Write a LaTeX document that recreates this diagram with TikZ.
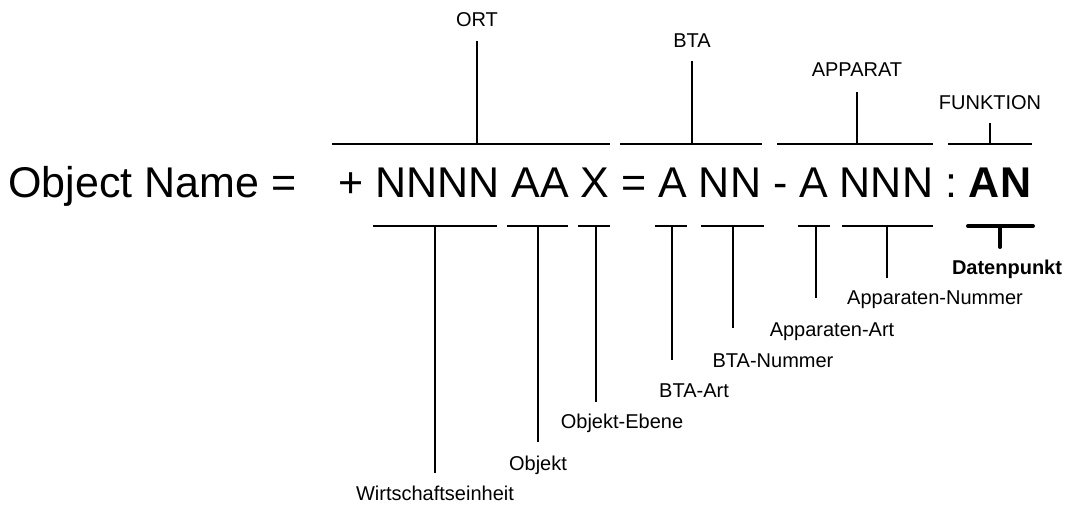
\documentclass[tikz,border=0pt]{standalone}
\usepackage{fontspec}
\setmainfont{Liberation Sans}
\usepackage{tikz}

\begin{document}
\begin{tikzpicture}[x=1pt, y=-1pt,
  big/.style={font=\fontsize{43}{50}\selectfont, inner sep=0pt, anchor=base west},
  lbl/.style={font=\fontsize{20}{24}\selectfont, inner sep=0pt, anchor=base},
  bar/.style={line width=2pt},
  leg/.style={line width=1.5pt}]
\useasboundingbox (0,0) rectangle (1069,505);

% Object name
\node[big] (name) at (8,198) {Object Name =};
\node[big] (code) at (338,198) {+ NNNN AA X = A NN - A NNN : \textbf{AN}};

% Groups above
\node[lbl] (ort) at (477,27) {ORT};
\coordinate (ort-j) at (477,144);
\draw[bar] (332,144) -- (610,144);
\draw[bar] (ort-j) -- ([yshift=-14pt]ort.base);

\node[lbl] (bta) at (692,48) {BTA};
\coordinate (bta-j) at (692,144);
\draw[bar] (620,144) -- (762,144);
\draw[bar] (bta-j) -- ([yshift=-13pt]bta.base);

\node[lbl] (app) at (857,77) {APPARAT};
\coordinate (app-j) at (857,144);
\draw[bar] (777,144) -- (933,144);
\draw[bar] (app-j) -- ([yshift=-15pt]app.base);

\node[lbl] (fkt) at (990,110) {FUNKTION};
\coordinate (fkt-j) at (990,144);
\draw[bar] (948,144) -- (1032,144);
\draw[bar] (fkt-j) -- ([yshift=-13pt]fkt.base);

% Parts below
\node[lbl] (wirt) at (435,500) {Wirtschaftseinheit};
\coordinate (wirt-j) at (435,226);
\coordinate (wirt-e) at (435,473);
\draw[bar] (373,226) -- (497,226);
\draw[leg] (wirt-j) -- (wirt-e);

\node[lbl] (obj) at (538,470) {Objekt};
\coordinate (obj-j) at (538,226);
\coordinate (obj-e) at (538,442);
\draw[bar] (507,226) -- (568,226);
\draw[leg] (obj-j) -- (obj-e);

\node[lbl] (ebene) at (622,428) {Objekt-Ebene};
\coordinate (ebene-j) at (596,226);
\coordinate (ebene-e) at (596,402);
\draw[bar] (578,226) -- (610,226);
\draw[leg] (ebene-j) -- (ebene-e);

\node[lbl] (btaart) at (694,397) {BTA-Art};
\coordinate (btaart-j) at (672,226);
\coordinate (btaart-e) at (672,360);
\draw[bar] (655,226) -- (687,226);
\draw[leg] (btaart-j) -- (btaart-e);

\node[lbl] (btanr) at (773,367) {BTA-Nummer};
\coordinate (btanr-j) at (733,226);
\coordinate (btanr-e) at (733,328);
\draw[bar] (701,226) -- (764,226);
\draw[leg] (btanr-j) -- (btanr-e);

\node[lbl] (appart) at (832,337) {Apparaten-Art};
\coordinate (appart-j) at (816,226);
\coordinate (appart-e) at (816,298);
\draw[bar] (798,226) -- (830,226);
\draw[leg] (appart-j) -- (appart-e);

\node[lbl] (appnr) at (935,305) {Apparaten-Nummer};
\coordinate (appnr-j) at (887,226);
\coordinate (appnr-e) at (887,278);
\draw[bar] (842,226) -- (933,226);
\draw[leg] (appnr-j) -- (appnr-e);

\node[lbl, font=\fontsize{20}{24}\selectfont\bfseries] (dp) at (1007,275) {Datenpunkt};
\coordinate (dp-j) at (1000,226);
\coordinate (dp-e) at (1000,247);
\draw[line width=4pt, line cap=round] (968,226) -- (1033,226);
\draw[line width=4pt, line cap=round] (dp-j) -- (dp-e);
\end{tikzpicture}
\end{document}
